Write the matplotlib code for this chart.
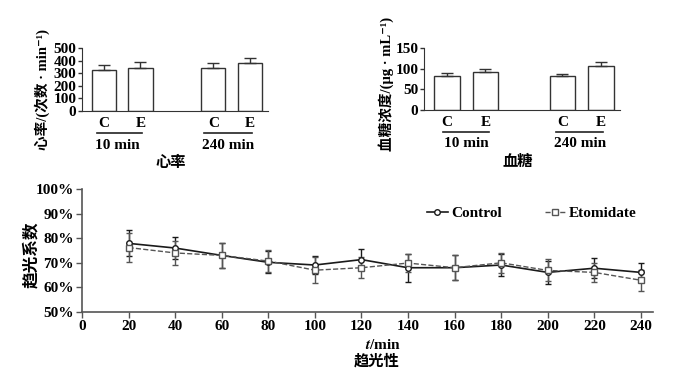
import matplotlib
matplotlib.use("Agg")
import matplotlib.pyplot as plt
from matplotlib.ticker import FuncFormatter

plt.rcParams['font.family'] = ['Liberation Serif', 'Noto Sans CJK SC', 'DejaVu Sans']
plt.rcParams['font.weight'] = 'bold'
plt.rcParams['mathtext.fontset'] = 'stix'

# 顶部柱状图数据
bar_labels = ['C', 'E', 'C', 'E']
group_labels = ['10 min', '240 min']
heart_rate = [323, 339, 344, 378]
heart_rate_err = [39, 47, 34, 40]
glucose = [83.4, 92.2, 82.6, 107.5]
glucose_err = [6.4, 6.4, 5.6, 9.5]

# 底部折线图数据
t_min = [20, 40, 60, 80, 100, 120, 140, 160, 180, 200, 220, 240]
control = [77.9, 76.0, 73.0, 70.2, 69.1, 71.3, 68.0, 68.0, 69.1, 66.1, 67.8, 66.1]
control_sd = [5.3, 4.6, 5.0, 4.5, 3.8, 4.2, 5.7, 5.0, 4.6, 4.7, 4.0, 3.7]
etomidate = [76.2, 74.0, 73.0, 70.7, 67.0, 68.0, 69.9, 68.0, 70.0, 66.9, 66.1, 62.9]
etomidate_sd = [5.8, 4.7, 5.0, 4.5, 5.4, 4.2, 3.7, 5.0, 4.0, 4.5, 4.0, 4.2]

W, H = 689, 380
fig = plt.figure(figsize=(W / 100, H / 100), dpi=100)

pos = [0.9, 2.4, 5.4, 6.9]
spine_c = '#333333'


def bar_panel(rect, vals, errs, ymax, step, underlines, group_x, title, ylabel, ylabel_xy):
    ax = fig.add_axes(rect)
    ax.bar(pos, vals, width=1.0, color='white', edgecolor=spine_c, linewidth=1.0)
    ax.errorbar(pos, vals, yerr=[[0] * 4, errs], fmt='none', ecolor=spine_c,
                elinewidth=1.0, capsize=4, capthick=1.0)
    ax.set_xlim(0, 7.65)
    ax.set_ylim(0, ymax)
    ax.set_yticks(range(0, ymax + 1, step))
    for s in ['top', 'right']:
        ax.spines[s].set_visible(False)
    for s in ['left', 'bottom']:
        ax.spines[s].set_color(spine_c)
    ax.set_xticks(pos)
    ax.set_xticklabels(bar_labels, fontsize=11, fontweight='bold')
    ax.tick_params(axis='x', length=0, pad=4)
    ax.tick_params(axis='y', length=3, width=1, color=spine_c, labelsize=11, pad=1)
    trans = ax.get_xaxis_transform()
    for (x0, x1), gx, gl in zip(underlines, group_x, group_labels):
        ax.plot([x0, x1], [-0.35, -0.35], transform=trans, color='#222222',
                linewidth=1.2, clip_on=False)
        ax.text(gx, -0.54, gl, transform=trans, ha='center', va='center',
                fontsize=11, fontweight='bold')
    ax.text(3.65, -0.83, title, transform=trans, ha='center', va='center',
            fontsize=11, fontweight='bold')
    fig.text(ylabel_xy[0] / W, 1 - ylabel_xy[1] / H, ylabel, rotation=90,
             ha='center', va='center', fontsize=10.5, fontweight='bold')
    return ax


bar_panel([82 / W, 1 - 111 / H, 186 / W, 63 / H], heart_rate, heart_rate_err,
          500, 100, [(0.6, 2.45), (5.0, 7.0)], [1.45, 6.0], '心率',
          '心率/(次数 · min⁻¹)', (42, 89))
bar_panel([424 / W, 1 - 110 / H, 196 / W, 62 / H], glucose, glucose_err,
          150, 50, [(0.75, 2.55), (5.15, 7.0)], [1.65, 6.1], '血糖',
          '血糖浓度/(μg · mL⁻¹)', (386, 84))

# 底部：趋光系数折线图
ax = fig.add_axes([82 / W, 1 - 312 / H, 571 / W, 123 / H])
ax.errorbar(t_min, control, yerr=control_sd, color='#1a1a1a', linestyle='-',
            linewidth=1.2, marker='o', markersize=4, markerfacecolor='white',
            markeredgewidth=1.0, capsize=2.5, elinewidth=1.0, label='Control')
ax.errorbar(t_min, etomidate, yerr=etomidate_sd, color='#555555', linestyle='--',
            linewidth=1.0, marker='s', markersize=4, markerfacecolor='white',
            markeredgewidth=1.0, capsize=2.5, elinewidth=1.0, label='Etomidate')
ax.set_xlim(0, 245.2)
ax.set_ylim(50, 100)
ax.set_xticks(range(0, 241, 20))
ax.set_yticks(range(50, 101, 10))
ax.yaxis.set_major_formatter(FuncFormatter(lambda v, p: f'{int(v)}%'))
for s in ['top', 'right']:
    ax.spines[s].set_visible(False)
for s in ['left', 'bottom']:
    ax.spines[s].set_color('#555555')
    ax.spines[s].set_linewidth(1.2)
ax.tick_params(length=4, width=1, color='#555555', labelsize=11, pad=2)
for lbl in ax.get_xticklabels() + ax.get_yticklabels():
    lbl.set_fontweight('bold')

handles, labels = ax.get_legend_handles_labels()
handles = [h[0] for h in handles]
leg = ax.legend(handles, labels, loc='center left', bbox_to_anchor=(0.585, 0.80),
                ncol=2, frameon=False, handlelength=1.4, handletextpad=0.2,
                columnspacing=2.8, borderpad=0.2,
                prop={'size': 11, 'weight': 'bold'})

fig.text(383 / W, 1 - 345 / H, '$t$/min', ha='center', va='center',
         fontsize=11, fontweight='bold')
fig.text(377 / W, 1 - 361 / H, '趋光性', ha='center', va='center',
         fontsize=11, fontweight='bold')
fig.text(32 / W, 1 - 255 / H, '趋光系数', rotation=90, ha='center', va='center',
         fontsize=12, fontweight='bold')

fig.savefig('out.png', dpi=100, facecolor='white')
